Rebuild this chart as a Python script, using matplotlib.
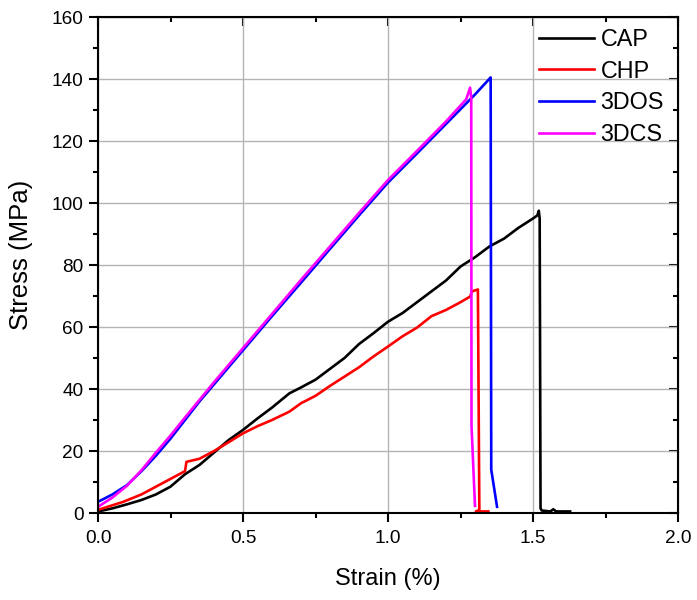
import matplotlib
matplotlib.use("Agg")
import matplotlib.pyplot as plt
from matplotlib.ticker import MultipleLocator, FormatStrFormatter

plt.rcParams['font.family'] = ['Liberation Sans', 'DejaVu Sans']

# ---- data ----
cap_strain = [0.0, 0.05, 0.1, 0.15, 0.2, 0.25, 0.3, 0.35, 0.4, 0.45, 0.5, 0.55, 0.6, 0.66,
              0.7, 0.75, 0.8, 0.85, 0.9, 0.95, 1.0, 1.05, 1.1, 1.15, 1.2, 1.25, 1.3, 1.35,
              1.4, 1.45, 1.5, 1.515, 1.52, 1.523, 1.526, 1.53, 1.56, 1.57, 1.58, 1.628]
cap_stress = [0.5, 1.5, 2.8, 4.2, 6.0, 8.5, 12.5, 15.5, 19.5, 23.5, 26.8, 30.5, 34.0, 38.6,
              40.5, 43.0, 46.5, 50.0, 54.5, 58.0, 61.7, 64.5, 68.0, 71.5, 75.0, 79.5, 82.5, 86.0,
              88.5, 92.0, 95.0, 96.0, 97.5, 95.0, 1.5, 0.8, 0.5, 1.2, 0.5, 0.5]

chp_strain = [0.0, 0.05, 0.087, 0.15, 0.2, 0.25, 0.3, 0.305, 0.35, 0.4, 0.45, 0.5, 0.55, 0.6,
              0.66, 0.7, 0.75, 0.8, 0.85, 0.9, 0.95, 1.0, 1.05, 1.1, 1.15, 1.2, 1.25, 1.283,
              1.29, 1.31, 1.315, 1.303, 1.346]
chp_stress = [1.0, 2.5, 3.6, 6.0, 8.5, 11.0, 13.5, 16.5, 17.5, 20.0, 22.8, 25.7, 28.0, 30.0,
              32.7, 35.4, 37.8, 41.0, 44.0, 47.0, 50.5, 53.7, 57.0, 59.8, 63.5, 65.5, 68.0, 69.8,
              71.5, 72.1, 1.0, 0.5, 0.5]

dos_strain = [0.0, 0.05, 0.1, 0.15, 0.2, 0.25, 0.3, 0.35, 0.4, 0.5, 0.6, 0.7, 0.8, 0.9, 1.0,
              1.1, 1.2, 1.3, 1.354, 1.356, 1.376]
dos_stress = [3.6, 6.0, 9.0, 13.5, 18.5, 24.0, 30.0, 36.0, 41.5, 52.5, 63.5, 74.3, 85.2, 96.0,
              106.6, 116.0, 125.5, 135.0, 140.5, 14.0, 2.0]

dcs_strain = [0.0, 0.05, 0.1, 0.15, 0.2, 0.25, 0.3, 0.35, 0.4, 0.5, 0.6, 0.7, 0.8, 0.9, 1.0,
              1.1, 1.2, 1.27, 1.283, 1.287, 1.288, 1.30]
dcs_stress = [2.0, 5.0, 8.8, 13.8, 19.5, 25.0, 30.8, 36.5, 42.2, 53.2, 64.2, 75.2, 86.0, 96.8,
              107.4, 116.8, 126.3, 133.5, 137.2, 134.0, 28.0, 2.3]

labels = ['CAP', 'CHP', '3DOS', '3DCS']
colors = ['#000000', '#ff0000', '#0000ff', '#ff00ff']

fig = plt.figure(figsize=(6.97, 6.0), dpi=100)
ax = fig.add_axes([98/697, 87/600, 580/697, 496/600])

series = [(cap_strain, cap_stress), (chp_strain, chp_stress),
          (dos_strain, dos_stress), (dcs_strain, dcs_stress)]
for (xs, ys), lab, col in zip(series, labels, colors):
    ax.plot(xs, ys, color=col, lw=1.9, label=lab)

ax.set_xlim(0, 2.0)
ax.set_ylim(0, 160)
ax.xaxis.set_major_locator(MultipleLocator(0.5))
ax.xaxis.set_minor_locator(MultipleLocator(0.25))
ax.yaxis.set_major_locator(MultipleLocator(20))
ax.yaxis.set_minor_locator(MultipleLocator(10))
ax.xaxis.set_major_formatter(FormatStrFormatter('%.1f'))
ax.grid(True, which='major', color='#b4b4b4', lw=1.0)
ax.set_axisbelow(True)

for s in ax.spines.values():
    s.set_linewidth(1.5)

ax.tick_params(which='major', direction='out', length=6.5, width=1.5, labelsize=13.7, pad=4)
ax.tick_params(which='minor', direction='out', length=3.6, width=1.5)
ax.tick_params(axis='x', which='major', pad=6)

secx = ax.secondary_xaxis('top')
secx.xaxis.set_major_locator(MultipleLocator(0.5))
secx.xaxis.set_minor_locator(MultipleLocator(0.25))
secx.tick_params(which='major', direction='in', length=6.5, width=1.5, labeltop=False)
secx.tick_params(which='minor', direction='in', length=3.6, width=1.5)
secy = ax.secondary_yaxis('right')
secy.yaxis.set_major_locator(MultipleLocator(20))
secy.yaxis.set_minor_locator(MultipleLocator(10))
secy.tick_params(which='major', direction='in', length=6.5, width=1.5, labelright=False)
secy.tick_params(which='minor', direction='in', length=3.6, width=1.5)

ax.set_xlabel('Strain (%)', fontsize=17, labelpad=15)
ax.set_ylabel('Stress (MPa)', fontsize=18.5, labelpad=13, y=0.52)

ax.legend(loc='upper right', bbox_to_anchor=(1.0, 1.0 + 3/496), frameon=False,
          fontsize=16.8, handlelength=2.35, handletextpad=0.3, labelspacing=0.37,
          borderaxespad=0.35, borderpad=0.25)

fig.savefig('out.png', dpi=100)
